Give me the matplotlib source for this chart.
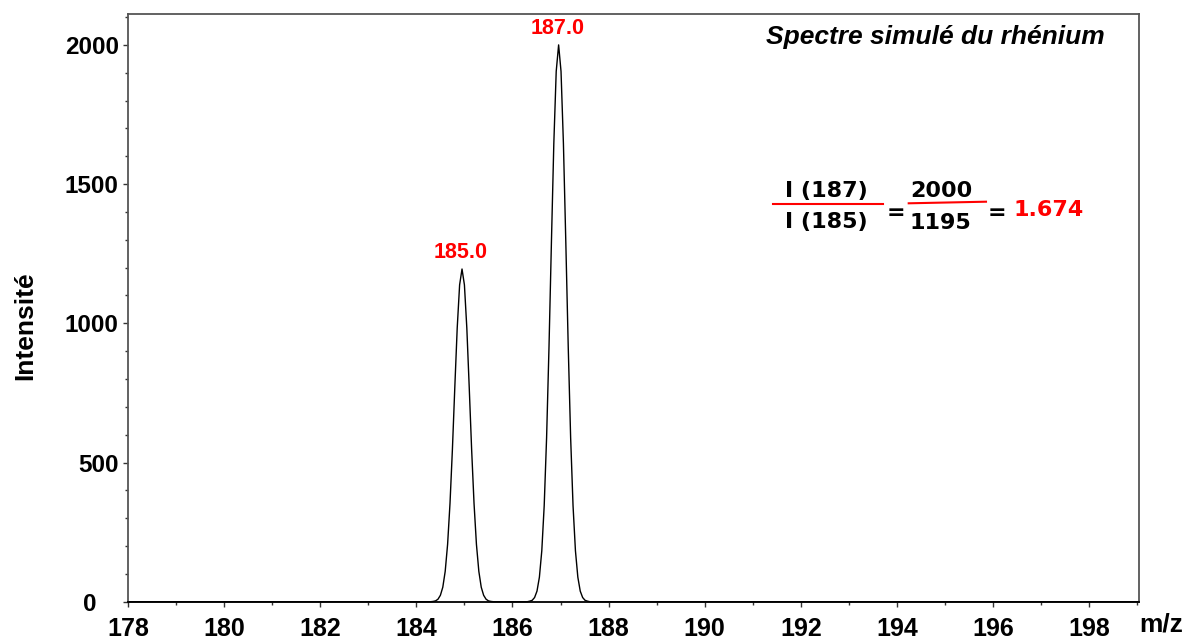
import numpy as np
import matplotlib
matplotlib.use('Agg')
import matplotlib.pyplot as plt
from matplotlib.ticker import MultipleLocator
from matplotlib.transforms import blended_transform_factory

plt.rcParams['font.family'] = ['Liberation Sans', 'DejaVu Sans']
plt.rcParams['font.weight'] = 'bold'

# values
mz_range = [178, 199.03]
peak_labels = ['185.0', '187.0']
peak_centers = [184.95, 186.96]
peak_heights = [1195, 2000]
# sampled profile around each peak (offset in m/z, intensity)
offsets = [-0.65, -0.60, -0.55, -0.50, -0.45, -0.40, -0.35, -0.30, -0.25, -0.20, -0.15, -0.10, -0.05,
           0.00, 0.05, 0.10, 0.15, 0.20, 0.25, 0.30, 0.35, 0.40, 0.45, 0.50, 0.55, 0.60, 0.65]
int_185 = [0, 1, 3, 9, 23, 52, 109, 206, 353, 547, 770, 983, 1138,
           1195, 1138, 983, 770, 547, 353, 206, 109, 52, 23, 9, 3, 1, 0]
int_187 = [0, 2, 5, 15, 38, 88, 183, 345, 590, 916, 1289, 1645, 1905,
           2000, 1905, 1645, 1289, 916, 590, 345, 183, 88, 38, 15, 5, 2, 0]

x_ticks = list(range(178, 200, 2))
y_ticks = [0, 500, 1000, 1500, 2000]

W, H = 1189, 641
def fx(x):
    return x / W
def fy(y):
    return 1 - y / H

mz = [mz_range[0]]
inten = [0]
for c, prof in zip(peak_centers, [int_185, int_187]):
    mz += [c + o for o in offsets]
    inten += prof
mz.append(mz_range[1])
inten.append(0)

fig = plt.figure(figsize=(W / 100, H / 100), dpi=100)
ax = fig.add_axes([fx(128), fy(601.7), (1138.7 - 128) / W, (601.7 - 14) / H])

ax.plot(mz, inten, color='black', lw=1.0, clip_on=False)

ax.set_xlim(mz_range)
ax.set_ylim(0, 2111)
ax.set_xticks(x_ticks)
ax.set_yticks(y_ticks)
ax.set_yticklabels([''] + [str(v) for v in y_ticks[1:]])
ax.xaxis.set_minor_locator(MultipleLocator(1))
ax.yaxis.set_minor_locator(MultipleLocator(100))
ax.tick_params(axis='x', which='major', length=3.3, width=1, pad=7.5, labelsize=18, color='#333333')
ax.tick_params(axis='y', which='major', length=3.3, width=1, pad=3.4, labelsize=17.5, color='#333333')
ax.tick_params(which='minor', length=2, width=1, color='#333333')

for s in ['left', 'top', 'right']:
    ax.spines[s].set_color('#555555')
    ax.spines[s].set_linewidth(1.3)
ax.spines['bottom'].set_color('black')
ax.spines['bottom'].set_linewidth(1.3)

# the "0" label sits further left than the others
tr = blended_transform_factory(fig.transFigure, ax.transData)
ax.text(fx(97), 0, '0', transform=tr, ha='right', va='center_baseline', fontsize=17.5)

# peak labels
for c, h, lab in zip(peak_centers, peak_heights, peak_labels):
    ax.annotate(lab, (c, h), xytext=(-1, 7.7), textcoords='offset points',
                ha='center', va='baseline', color='red', fontsize=15.5)

fig.text(fx(1105), fy(44.3), 'Spectre simulé du rhénium', ha='right', va='baseline',
         fontsize=19, style='italic')
fig.text(fx(25), fy(326), 'Intensité', rotation=90, ha='center', va='center', fontsize=19)
fig.text(fx(1161), fy(631), 'm/z', ha='center', va='baseline', fontsize=19)

# intensity ratio
fs = 16
ff = ['DejaVu Sans']
fig.text(fx(826.3), fy(196.5), 'I (187)', ha='center', va='baseline', fontsize=fs, family=ff)
fig.text(fx(826.3), fy(228.3), 'I (185)', ha='center', va='baseline', fontsize=fs, family=ff)
fig.text(fx(941), fy(196.7), '2000', ha='center', va='baseline', fontsize=fs, family=ff)
fig.text(fx(940.5), fy(229), '1195', ha='center', va='baseline', fontsize=fs, family=ff)
fig.text(fx(895.8), fy(219), '=', ha='center', va='baseline', fontsize=fs, family=ff)
fig.text(fx(997.2), fy(219), '=', ha='center', va='baseline', fontsize=fs, family=ff)
fig.text(fx(1014), fy(215.7), '1.674', ha='left', va='baseline', fontsize=fs, family=ff, color='red')
ax.plot([fx(773.3), fx(882.7)], [fy(204.3), fy(204.3)], color='red', lw=1.5,
        transform=fig.transFigure, clip_on=False)
ax.plot([fx(908.7), fx(986)], [fy(203.3), fy(201.7)], color='red', lw=1.5,
        transform=fig.transFigure, clip_on=False)

fig.savefig('out.png', dpi=100)
